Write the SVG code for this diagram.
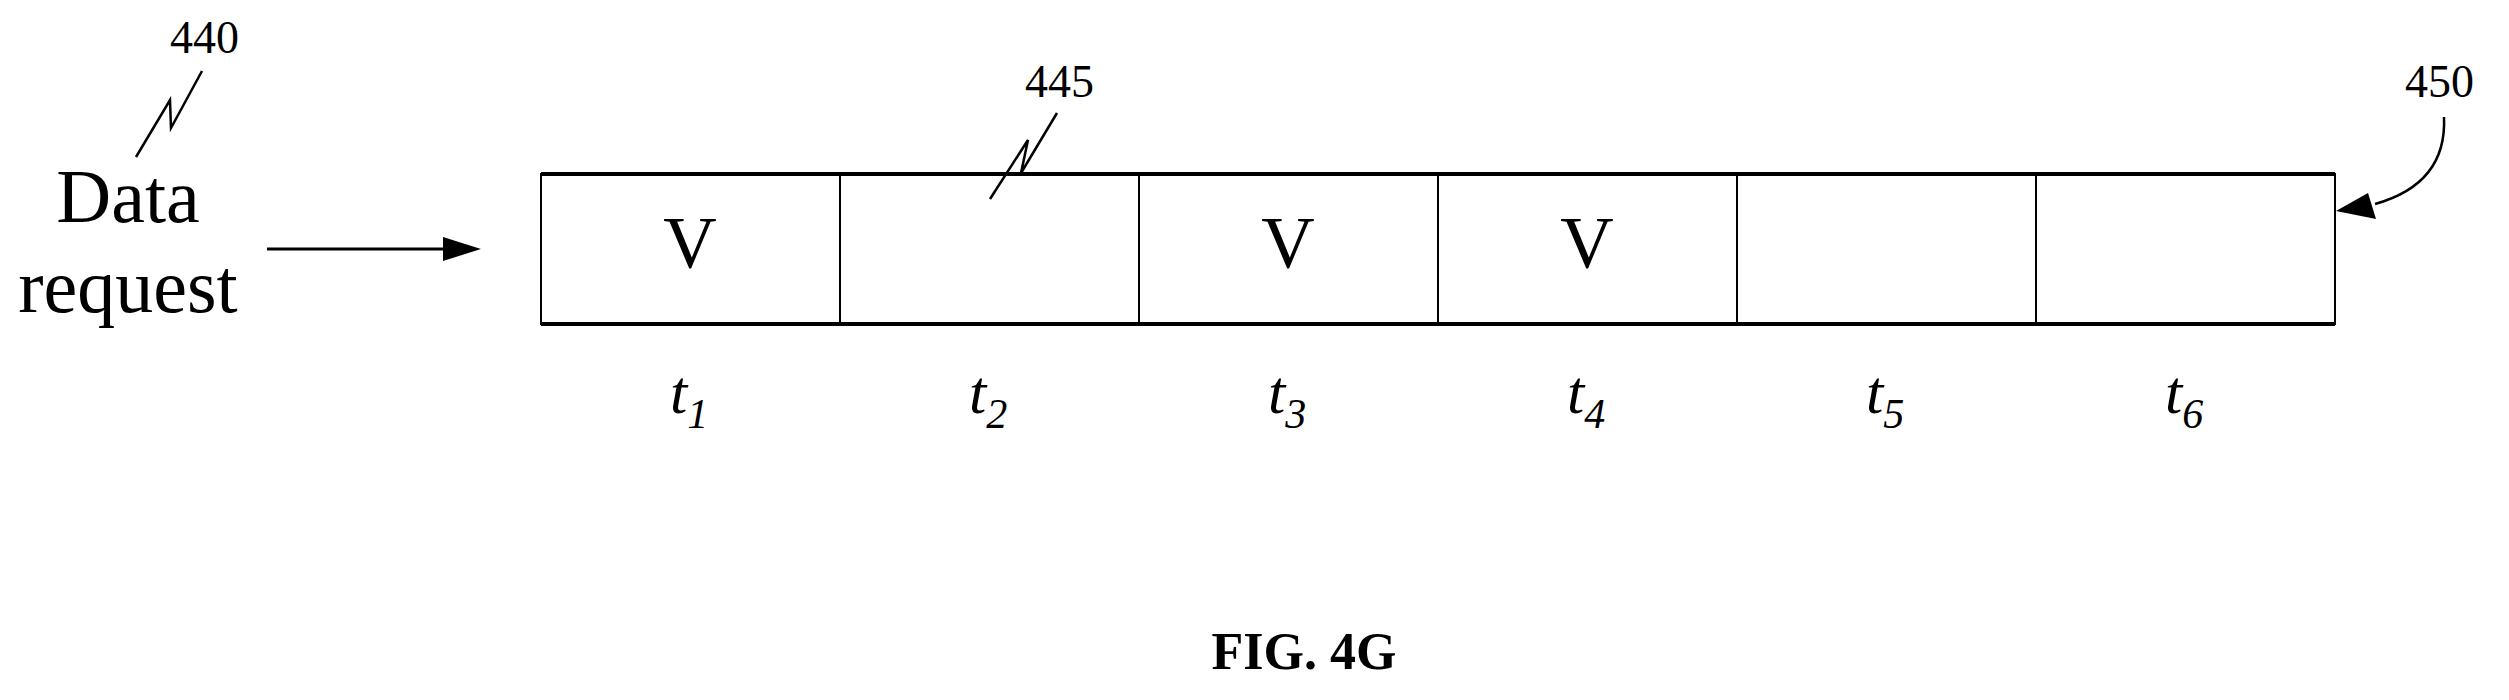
<svg xmlns="http://www.w3.org/2000/svg" width="2509" height="700" viewBox="0 0 2509 700">
<style>
text{font-family:"Liberation Serif","Times New Roman",serif;fill:#000}
.lbl{font-size:76px;text-anchor:middle}
.ref{font-size:46px}
.v{font-size:74px;text-anchor:middle}
.t{font-size:62px;font-style:italic}
.sub{font-size:42px}
.ln{fill:none;stroke:#000;stroke-width:2.5}
.cell{fill:#fff;stroke:#000;stroke-width:2}
</style>
<g id="request">
<text class="lbl" x="128" y="222">Data</text>
<text class="lbl" x="128" y="312">request</text>
</g>
<g id="ref440"><text class="ref" x="170" y="53">440</text></g>
<g id="ref445"><text class="ref" x="1025" y="97">445</text></g>
<g id="ref450"><text class="ref" x="2405" y="97">450</text></g>
<g id="buffer">
<rect class="cell" x="541" y="174" width="299" height="150"/>
<rect class="cell" x="840" y="174" width="299" height="150"/>
<rect class="cell" x="1139" y="174" width="299" height="150"/>
<rect class="cell" x="1438" y="174" width="299" height="150"/>
<rect class="cell" x="1737" y="174" width="299" height="150"/>
<rect class="cell" x="2036" y="174" width="299" height="150"/>
<line x1="541" y1="174" x2="2335" y2="174" stroke="#000" stroke-width="4"/>
<line x1="541" y1="324" x2="2335" y2="324" stroke="#000" stroke-width="4"/>
<text class="v" x="690" y="268">V</text>
<text class="v" x="1288" y="268">V</text>
<text class="v" x="1587" y="268">V</text>
</g>
<g id="timeLabels">
<text class="t" x="670" y="413">t<tspan class="sub" dy="15">1</tspan></text>
<text class="t" x="969" y="413">t<tspan class="sub" dy="15">2</tspan></text>
<text class="t" x="1268" y="413">t<tspan class="sub" dy="15">3</tspan></text>
<text class="t" x="1567" y="413">t<tspan class="sub" dy="15">4</tspan></text>
<text class="t" x="1866" y="413">t<tspan class="sub" dy="15">5</tspan></text>
<text class="t" x="2165" y="413">t<tspan class="sub" dy="15">6</tspan></text>
</g>
<g id="connectors">
<line x1="267" y1="249" x2="443" y2="249" stroke="#000" stroke-width="3"/>
<path d="M443,237 L481,249 L443,261 Z" fill="#000"/>
<path class="ln" d="M136,157 L170,100 L171,128 L202,71"/>
<path class="ln" d="M990,199 L1028,140 L1021,173 L1057,113"/>
<path class="ln" d="M2444,117 C2446,160 2425,190 2375,204"/>
<path d="M2336,211 L2368,193 L2376,219 Z" fill="#000"/>
</g>
<text x="1304" y="669" font-size="52" font-weight="bold" text-anchor="middle">FIG. 4G</text>
</svg>
